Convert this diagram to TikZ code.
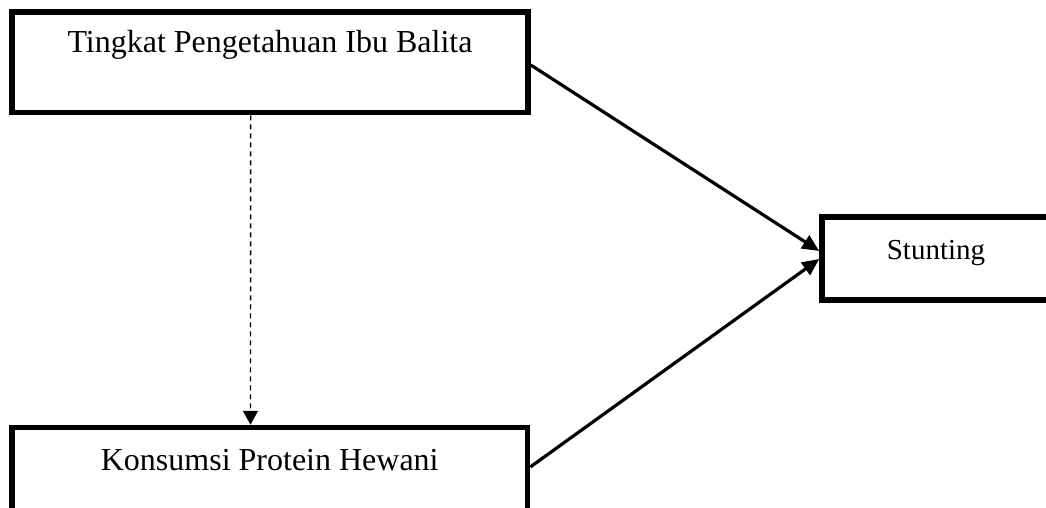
\documentclass[tikz,border=0pt]{standalone}
\usepackage{fontspec}
\setmainfont{Liberation Serif}
\usetikzlibrary{arrows.meta}
\begin{document}
\begin{tikzpicture}[x=1pt,y=-1pt,
  varbox/.style={draw=black, line width=5.5pt, rectangle, inner sep=0pt, align=center},
  bigtext/.style={font=\fontsize{32}{38}\selectfont},
  link/.style={line width=3.2pt, -{Triangle[length=17pt,width=15pt]}},
  dashlink/.style={line width=1.4pt, dash pattern=on 5pt off 4pt, -{Triangle[length=14pt,width=15pt]}}
]
\useasboundingbox (0,0) rectangle (1046,507);
\clip (0,0) rectangle (1046,507);

% variables
\node[varbox, bigtext, minimum width=516pt, minimum height=100.5pt,
      text height=40pt, text depth=60.5pt] (know) at (270,62.25)
      {Tingkat Pengetahuan Ibu Balita};
\node[varbox, bigtext, minimum width=515.5pt, minimum height=110pt,
      text height=42.5pt, text depth=67.5pt] (prot) at (269.75,482.5)
      {Konsumsi Protein Hewani};
\node[varbox, font=\fontsize{29}{35}\selectfont, minimum width=228pt, minimum height=83pt,
      text height=42pt, text depth=41pt] (stunt) at (936,258.5)
      {Stunting};

% relations
\draw[link] ([yshift=-2.75pt]know.east) -- ([yshift=7.5pt]stunt.west);
\draw[link] ([yshift=15.5pt]prot.east) -- ([yshift=-0.5pt]stunt.west);
\draw[dashlink] ([xshift=-19.3pt]know.south) -- ([xshift=-19.3pt]prot.north);
\end{tikzpicture}
\end{document}
